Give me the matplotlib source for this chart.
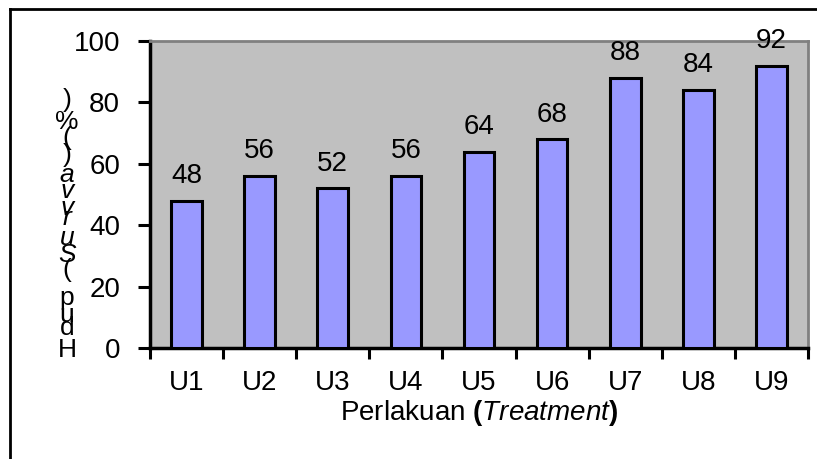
import matplotlib.pyplot as plt
import numpy as np

plt.rcParams['font.family'] = 'Liberation Sans'
plt.rcParams['mathtext.fontset'] = 'custom'
plt.rcParams['mathtext.rm'] = 'Liberation Sans'
plt.rcParams['mathtext.it'] = 'Liberation Sans:italic'
plt.rcParams['mathtext.bf'] = 'Liberation Sans:bold'

# data
perlakuan = ['U1', 'U2', 'U3', 'U4', 'U5', 'U6', 'U7', 'U8', 'U9']
hidup = [48, 56, 52, 56, 64, 68, 88, 84, 92]
yticks = [0, 20, 40, 60, 80, 100]

# y label comes out as stacked letters in the original (bottom -> top)
ylab_chars = ['H', 'd', 'u', 'p', '(', 'S', 'u', 'r', 'v', 'v', 'a', ')', '(', '%', ')']
ylab_italic = [False, False, False, False, False, True, True, True, True, True, True, False, False, False, False]
ylab_ypix = [350, 328, 315, 298, 270, 255, 238, 218, 208, 191, 175, 155, 138, 122, 100]

W, H = 817, 459
FS = 20
fig = plt.figure(figsize=(W / 100, H / 100), dpi=100)
ax = fig.add_axes([150 / W, 1 - 348 / H, 658 / W, 307 / H])
ax.set_facecolor('#C0C0C0')

x = np.arange(len(perlakuan))
ax.bar(x, hidup, width=0.42, color='#9999FF', edgecolor='black', linewidth=2.2, zorder=3)
for xi, v in zip(x, hidup):
    ax.text(xi, v + 3.8, str(v), ha='center', va='bottom', fontsize=FS)

ax.set_xlim(-0.5, len(perlakuan) - 0.5)
ax.set_ylim(0, 100)
ax.set_yticks(yticks)
ax.tick_params(axis='y', labelsize=FS, length=8.5, width=2.2, direction='out', pad=13)

# x ticks between categories, labels centred on bars
ax.set_xticks(np.arange(-0.5, len(perlakuan), 1))
ax.set_xticklabels([])
ax.set_xticks(x, minor=True)
ax.set_xticklabels(perlakuan, minor=True, fontsize=FS)
ax.tick_params(axis='x', which='major', length=8, width=2.2, direction='out')
ax.tick_params(axis='x', which='minor', length=0, pad=16)

ax.spines['left'].set_linewidth(2.5)
ax.spines['bottom'].set_linewidth(2.5)
ax.spines['top'].set_color('#808080')
ax.spines['right'].set_color('#808080')
ax.spines['top'].set_linewidth(2)
ax.spines['right'].set_linewidth(2)

ax.set_xlabel(r'Perlakuan $\mathbf{(}\mathit{Treatment}\mathbf{)}$', fontsize=FS, labelpad=1)

for ch, it, yp in zip(ylab_chars, ylab_italic, ylab_ypix):
    fig.text(67 / W, 1 - yp / H, ch, ha='center', va='center', fontsize=19,
             style='italic' if it else 'normal')

# outer chart frame (only left and top edges visible)
fig.add_artist(plt.Line2D([10 / W, 10 / W], [0, 1 - 9 / H], color='black', lw=2))
fig.add_artist(plt.Line2D([10 / W, 1], [1 - 9 / H, 1 - 9 / H], color='black', lw=2))

fig.savefig('out.png', dpi=100)
